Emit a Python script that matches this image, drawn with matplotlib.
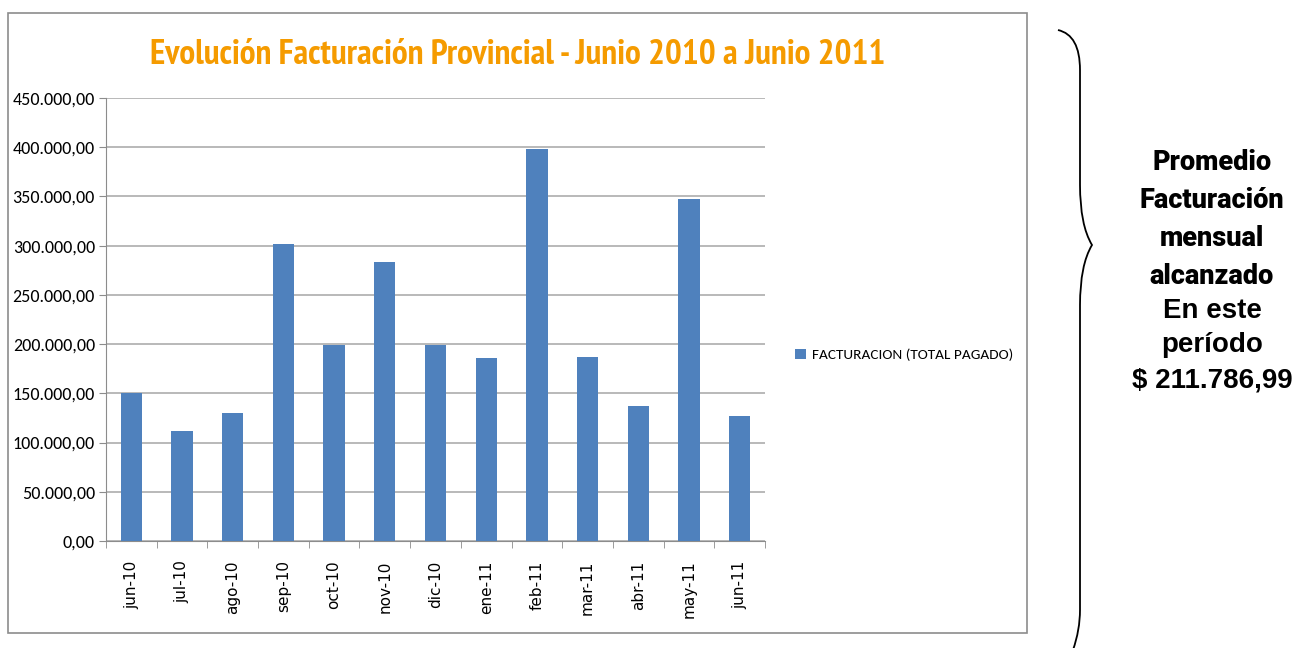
import os
import matplotlib
matplotlib.use("Agg")
import matplotlib.pyplot as plt
from matplotlib import font_manager
from matplotlib.font_manager import FontProperties
from matplotlib.patches import Rectangle, PathPatch
from matplotlib.path import Path
from matplotlib.ticker import FuncFormatter, FixedLocator

meses = ["jun-10", "jul-10", "ago-10", "sep-10", "oct-10", "nov-10", "dic-10",
         "ene-11", "feb-11", "mar-11", "abr-11", "may-11", "jun-11"]
facturacion = [150000, 111700, 130000, 301700, 199100, 283400, 199000,
               185900, 398200, 187000, 137100, 347400, 127000]
serie = "FACTURACION (TOTAL PAGADO)"
titulo = "Evolución Facturación Provincial - Junio 2010 a Junio 2011"
promedio = "$ 211.786,99"

AZUL = "#4F81BD"


def font_file(*keys):
    # busca el archivo de fuente por nombre, en orden de preferencia
    files = [f.fname for f in font_manager.fontManager.ttflist]
    for k in keys:
        for fn in files:
            if os.path.basename(fn).lower() == k:
                return fn
    return None


def fprop(keys, size, fallback_weight="bold"):
    fn = font_file(*keys)
    if fn:
        return FontProperties(fname=fn, size=size)
    return FontProperties(family="DejaVu Sans", weight=fallback_weight, size=size)


fig = plt.figure(figsize=(13.01, 6.48), dpi=100)

# marco del gráfico
fig.patches.append(Rectangle((8 / 1301, 1 - 633 / 648), 1019 / 1301, 620 / 648,
                             transform=fig.transFigure, fill=False,
                             ec="#8c8c8c", lw=1.2))

ax = fig.add_axes([106 / 1301, 1 - 541 / 648, 659 / 1301, 443 / 648])
x = range(len(meses))
ax.bar(x, facturacion, width=0.42, color=AZUL, zorder=3, label=serie)
ax.set_xlim(-0.5, len(meses) - 0.5)
ax.set_ylim(0, 450000)
ax.set_yticks(range(0, 450001, 50000))


def fmt(v, pos):
    s = f"{v:,.2f}"
    return s.replace(",", "X").replace(".", ",").replace("X", ".")


ax.yaxis.set_major_formatter(FuncFormatter(fmt))
ax.grid(axis="y", color="#a6a6a6", lw=1.1, zorder=0)
for s in ["top", "right"]:
    ax.spines[s].set_visible(False)
ax.spines["left"].set_color("#8c8c8c")
ax.spines["bottom"].set_color("#8c8c8c")
ax.tick_params(axis="y", length=5, color="#8c8c8c", pad=3)
calibri = fprop(["carlito-regular.ttf"], 13, "normal")
for t in ax.get_yticklabels():
    t.set_fontproperties(calibri)

ax.set_xticks(list(x))
ax.set_xticklabels(meses, rotation=90, family="DejaVu Sans", fontsize=11)
ax.tick_params(axis="x", which="major", length=0, pad=14)
ax.xaxis.set_minor_locator(FixedLocator([i - 0.5 for i in range(len(meses) + 1)]))
ax.tick_params(axis="x", which="minor", length=5, color="#8c8c8c")

fig.text(518 / 1301, 1 - 55 / 648, titulo, ha="center", va="center",
         color="#F59B00",
         fontproperties=fprop(["pt_sans-narrow-web-bold.ttf",
                               "robotocondensed-bold.ttf"], 25.5))

leg = ax.legend(loc="center left", bbox_to_anchor=(1.025, 0.42), frameon=False,
                handlelength=0.7, handleheight=0.7, handletextpad=0.4,
                prop=fprop(["carlito-regular.ttf"], 11, "normal"))

# llave
bx0, bx1 = 1058, 1092
top, mid, bot = 30, 245, 650
verts = [(bx0, top), (bx0 + 22, top + 5), (bx0 + 22, top + 40), (bx0 + 22, top + 60),
         (bx0 + 22, mid - 60), (bx0 + 22, mid - 20), (bx1, mid),
         (bx0 + 22, mid + 20), (bx0 + 22, mid + 60),
         (bx0 + 22, bot - 40), (bx0 + 22, bot - 20), (bx0 + 15, bot)]
codes = [Path.MOVETO, Path.CURVE3, Path.CURVE3, Path.LINETO,
         Path.LINETO, Path.CURVE3, Path.CURVE3,
         Path.CURVE3, Path.CURVE3,
         Path.LINETO, Path.CURVE3, Path.CURVE3]
verts = [(vx / 1301, 1 - vy / 648) for vx, vy in verts]
fig.patches.append(PathPatch(Path(verts, codes), transform=fig.transFigure,
                             fill=False, lw=1.3, ec="black"))

heavy = fprop(["roboto-black.ttf", "dejavusans-bold.ttf"], 19.5)
bold = fprop(["liberationsans-bold.ttf", "dejavusans-bold.ttf"], 20)
cx = 1212 / 1301
lineas = [("Promedio", 163, heavy), ("Facturación", 201, heavy),
          ("mensual", 239, heavy), ("alcanzado", 277, heavy),
          ("En este", 311, bold), ("período", 345, bold),
          (promedio, 380, bold)]
for txt, yy, fp in lineas:
    fig.text(cx, 1 - yy / 648, txt, ha="center", va="center", fontproperties=fp)

fig.savefig("out.png", dpi=100)
